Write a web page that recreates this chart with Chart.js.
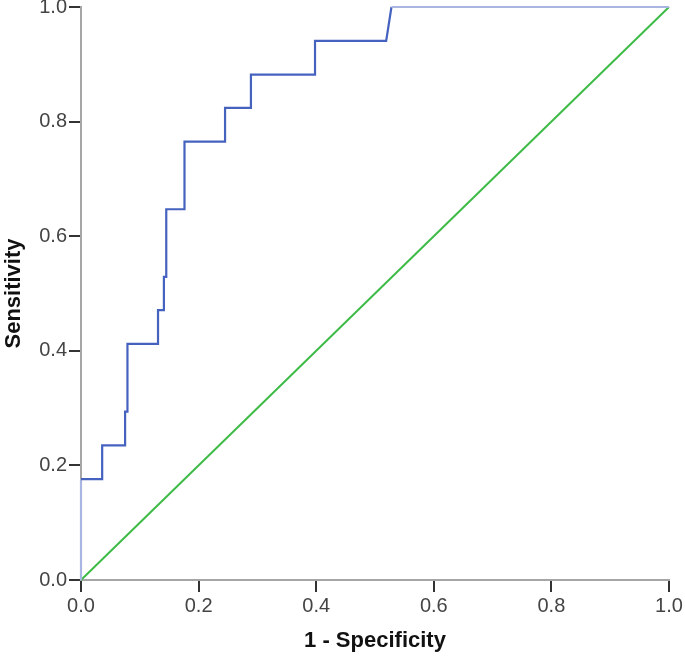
<!DOCTYPE html>
<html>
<head>
<meta charset="utf-8">
<script src="https://cdn.jsdelivr.net/npm/chart.js@4/dist/chart.umd.min.js"></script>
<style>
  html, body { margin: 0; padding: 0; background: #fff; }
  #wrap { width: 685px; height: 660px; }
</style>
</head>
<body>
<div id="wrap"><canvas id="c" width="685" height="660"></canvas></div>
<script>
// ROC curve points (1 - Specificity, Sensitivity)
const rocFpr = [0, 0, 0.036, 0.036, 0.075, 0.075, 0.079, 0.079, 0.131, 0.131, 0.141, 0.141, 0.145, 0.145, 0.176, 0.176, 0.245, 0.245, 0.289, 0.289, 0.398, 0.398, 0.519, 0.528, 1.0];
const rocTpr = [0, 0.176, 0.176, 0.235, 0.235, 0.294, 0.294, 0.412, 0.412, 0.471, 0.471, 0.529, 0.529, 0.647, 0.647, 0.765, 0.765, 0.824, 0.824, 0.882, 0.882, 0.941, 0.941, 1.0, 1.0];
// Reference line
const refX = [0, 1];
const refY = [0, 1];
const tickValues = [0, 0.2, 0.4, 0.6, 0.8, 1.0];
const xTitle = '1 - Specificity';
const yTitle = 'Sensitivity';

const rocData = rocFpr.map((x, i) => ({ x: x, y: rocTpr[i] }));
const refData = refX.map((x, i) => ({ x: x, y: refY[i] }));
const lastSeg = rocData.length - 2;

const BLUE = '#4562bf';
const LIGHT = '#aab6e2';

function fixScale(scale, size) {
  if (scale.isHorizontal()) scale.height = size; else scale.width = size;
  scale.paddingTop = 0; scale.paddingBottom = 0;
  scale.paddingLeft = 0; scale.paddingRight = 0;
}

const tickFont = { family: '"Liberation Sans", Arial, sans-serif', size: 20 };
const titleFont = { family: '"Liberation Sans", Arial, sans-serif', size: 22, weight: 'bold', lineHeight: 1.2 };

new Chart(document.getElementById('c'), {
  type: 'scatter',
  data: {
    datasets: [
      {
        data: refData,
        showLine: true,
        borderColor: '#3dbb46',
        borderWidth: 2,
        pointRadius: 0,
        clip: false,
        order: 2
      },
      {
        data: rocData,
        showLine: true,
        borderColor: BLUE,
        borderWidth: 2.2,
        pointRadius: 0,
        clip: false,
        order: 1,
        segment: {
          borderColor: ctx => (ctx.p0DataIndex === 0 || ctx.p0DataIndex === lastSeg) ? LIGHT : BLUE
        }
      }
    ]
  },
  options: {
    responsive: false,
    animation: false,
    devicePixelRatio: 1,
    layout: { padding: { left: 0, right: 16, top: 7, bottom: 0 } },
    plugins: { legend: { display: false }, tooltip: { enabled: false } },
    scales: {
      x: {
        type: 'linear',
        min: 0, max: 1,
        afterFit: s => fixScale(s, 80),
        afterBuildTicks: s => { s.ticks = tickValues.map(v => ({ value: v })); },
        ticks: {
          color: '#444',
          font: tickFont,
          padding: 2,
          maxRotation: 0,
          callback: v => Number(v).toFixed(1)
        },
        grid: {
          display: true,
          drawOnChartArea: false,
          drawTicks: true,
          tickLength: 12,
          color: '#333',
          lineWidth: 2
        },
        border: { display: true, color: '#a6a6a6', width: 2 },
        title: { display: true, text: xTitle, color: '#111', font: titleFont, padding: { top: 0, bottom: 6 } }
      },
      y: {
        type: 'linear',
        min: 0, max: 1,
        afterFit: s => fixScale(s, 81),
        afterBuildTicks: s => { s.ticks = tickValues.map(v => ({ value: v })); },
        ticks: {
          color: '#444',
          font: tickFont,
          padding: 2,
          callback: v => Number(v).toFixed(1)
        },
        grid: {
          display: true,
          drawOnChartArea: false,
          drawTicks: true,
          tickLength: 12,
          color: '#333',
          lineWidth: 2
        },
        border: { display: true, color: '#a6a6a6', width: 2 },
        title: { display: true, text: yTitle, color: '#111', font: titleFont, padding: { top: 1, bottom: 0 } }
      }
    }
  }
});
</script>
</body>
</html>
